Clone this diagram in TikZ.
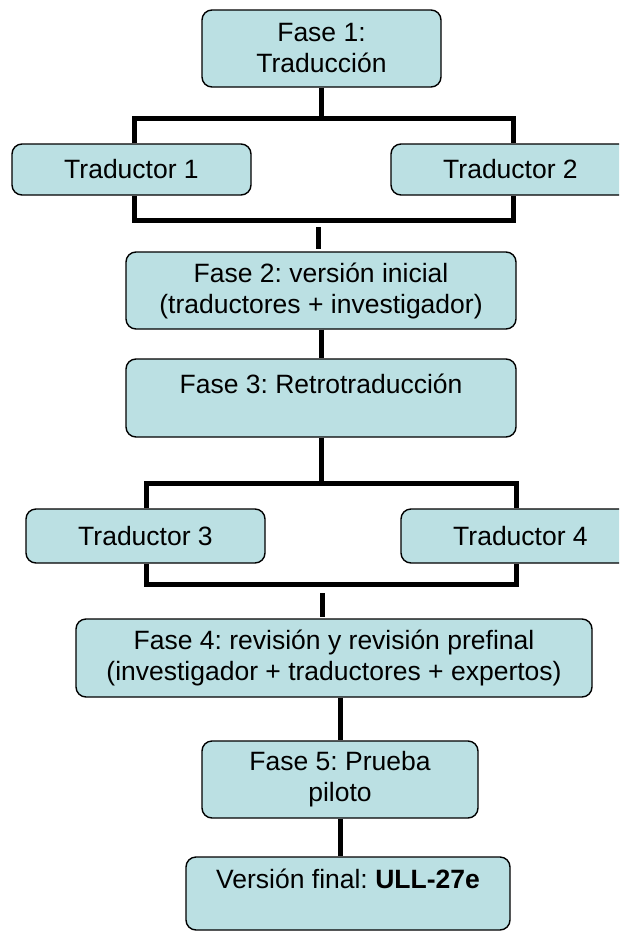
\documentclass[tikz,border=0pt]{standalone}
\usepackage{fontspec}
\setmainfont{Liberation Sans}
\frenchspacing
\definecolor{boxfill}{RGB}{187,224,227}
\begin{document}
\begin{tikzpicture}[x=1pt,y=-1pt,
  box/.style={draw=black, line width=1.4pt, fill=boxfill, rounded corners=10pt,
    inner sep=0pt, align=center, font=\fontsize{26.5}{31}\selectfont\frenchspacing},
  conn/.style={line width=5pt, line cap=butt, line join=miter}]
\useasboundingbox (0,0) rectangle (619,932);
\clip (0,0) rectangle (619,932);
% boxes
\node[box, minimum width=239, minimum height=77] (f1) at (321.5,48.5) {Fase 1:\\Traducción};
\node[box, minimum width=239, minimum height=51] (t1) at (131.5,169.5) {Traductor 1};
\node[box, minimum width=239, minimum height=51] (t2) at (510.5,169.5) {Traductor 2};
\node[box, minimum width=390, minimum height=77] (f2) at (321,290.5) {Fase 2: versión inicial\\(traductores + investigador)};
\node[box, minimum width=390, minimum height=78, text height=19pt, text depth=29pt] (f3) at (321,398) {Fase 3: Retrotraducción};
\node[box, minimum width=239, minimum height=54] (t3) at (145.5,536) {Traductor 3};
\node[box, minimum width=239, minimum height=54] (t4) at (520.5,536) {Traductor 4};
\node[box, minimum width=516, minimum height=78] (f4) at (334,658) {Fase 4: revisión y revisión prefinal\\(investigador + traductores + expertos)};
\node[box, minimum width=276, minimum height=77] (f5) at (340,779.5) {Fase 5: Prueba\\piloto};
\node[box, minimum width=324, minimum height=73, text height=19pt, text depth=29pt] (fin) at (348,893.5) {Versión final: \textbf{ULL-27e}};
% connector coordinates
\coordinate (bl1) at (134,118);
\coordinate (br1) at (513,118);
\coordinate (bl2) at (134,220);
\coordinate (br2) at (513,220);
\coordinate (s1a) at (318,227);
\coordinate (s1b) at (318,249);
\coordinate (bl3) at (146,483);
\coordinate (br3) at (516,483);
\coordinate (bl4) at (146,584);
\coordinate (br4) at (516,584);
\coordinate (s2a) at (322,593);
\coordinate (s2b) at (322,617);
% connectors
\draw[conn] (f1.south) -- (f1.south |- bl1);
\draw[conn] (bl1 |- t1.north) -- (bl1) -- (br1) -- (br1 |- t2.north);
\draw[conn] (bl2 |- t1.south) -- (bl2) -- (br2) -- (br2 |- t2.south);
\draw[conn] (s1a) -- (s1b);
\draw[conn] (f2.south) -- (f3.north);
\draw[conn] (f3.south) -- (f3.south |- bl3);
\draw[conn] (bl3 |- t3.north) -- (bl3) -- (br3) -- (br3 |- t4.north);
\draw[conn] (bl4 |- t3.south) -- (bl4) -- (br4) -- (br4 |- t4.south);
\draw[conn] (s2a) -- (s2b);
\draw[conn] (f5.north |- f4.south) -- (f5.north);
\draw[conn] (f5.south) -- (f5.south |- fin.north);
\end{tikzpicture}
\end{document}
